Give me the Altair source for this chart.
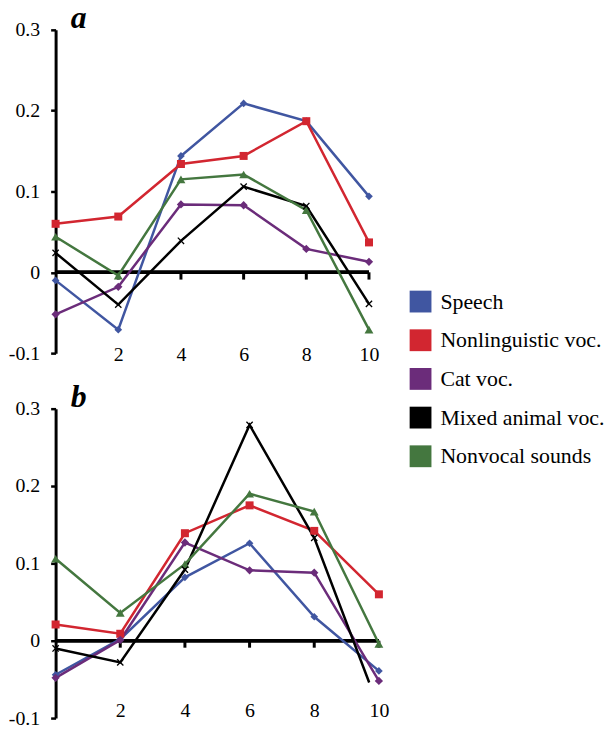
import altair as alt
import pandas as pd

x_vals = [0, 2, 4, 6, 8, 10]
series = ["Speech", "Nonlinguistic voc.", "Cat voc.", "Mixed animal voc.", "Nonvocal sounds"]
colors = ["#4056A1", "#D22630", "#6B2C7A", "#000000", "#44773F"]
shapes = ["diamond", "square", "diamond", "cross", "triangle-up"]
sizes = [60, 80, 60, 40, 60]

# panel a
a_speech = [-0.010, -0.071, 0.144, 0.209, 0.187, 0.094]
a_nonling = [0.060, 0.069, 0.134, 0.144, 0.187, 0.037]
a_cat = [-0.052, -0.018, 0.084, 0.083, 0.029, 0.013]
a_mixed = [0.024, -0.040, 0.039, 0.106, 0.082, -0.039]
a_nonvocal = [0.044, -0.004, 0.115, 0.121, 0.077, -0.071]

# panel b
b_speech = [-0.044, 0.002, 0.082, 0.126, 0.031, -0.039]
b_nonling = [0.021, 0.009, 0.139, 0.175, 0.142, 0.060]
b_cat = [-0.048, 0.001, 0.127, 0.091, 0.088, -0.052]
b_mixed_x = [0, 2, 4, 6, 8, 9.7]
b_mixed = [-0.010, -0.028, 0.092, 0.279, 0.133, -0.054]
b_nonvocal = [0.106, 0.036, 0.099, 0.190, 0.167, -0.004]

x_ticks = [2, 4, 6, 8, 10]
y_ticks = [-0.1, 0, 0.1, 0.2, 0.3]

SERIF = "Liberation Serif"


def make_df(xs_list, ys_list):
    rows = []
    for name, xs, ys in zip(series, xs_list, ys_list):
        for i, (xv, yv) in enumerate(zip(xs, ys)):
            rows.append({"x": xv, "y": yv, "series": name, "kind": name, "order": i,
                         "marker": float(xv) in [float(v) for v in x_vals]})
    return pd.DataFrame(rows)


df_a = make_df([x_vals] * 5, [a_speech, a_nonling, a_cat, a_mixed, a_nonvocal])
df_b = make_df([x_vals, x_vals, x_vals, b_mixed_x, x_vals],
               [b_speech, b_nonling, b_cat, b_mixed, b_nonvocal])
ticks_df = pd.DataFrame({"x": x_ticks})


def panel(df, label, w, h, xlab_pad, show_legend):
    xsc = alt.Scale(domain=[0, 10], nice=False, zero=False)
    ysc = alt.Scale(domain=[-0.1, 0.3], nice=False, zero=False)
    legend = alt.Legend(
        title=None, orient="none", legendX=357, legendY=263,
        symbolType="square", symbolSize=121, symbolStrokeWidth=11,
        labelFont=SERIF, labelFontSize=22, labelColor="black",
        labelOffset=9, rowPadding=-25, labelLimit=300,
    ) if show_legend else None
    color = alt.Color("series:N", scale=alt.Scale(domain=series, range=colors),
                      legend=legend, sort=series)
    xenc = alt.X("x:Q", scale=xsc, title=None,
                 axis=alt.Axis(values=x_ticks, domain=False, ticks=False, grid=False,
                               labelFont=SERIF, labelFontSize=20, labelColor="black",
                               labelBaseline="middle", labelPadding=xlab_pad,
                               labelFlush=False))
    yenc = alt.Y("y:Q", scale=ysc, title=None,
                 axis=alt.Axis(values=y_ticks, domain=True, domainWidth=3, domainColor="black",
                               ticks=True, tickWidth=2.5, tickSize=5, tickColor="black",
                               grid=False, labelFont=SERIF, labelFontSize=20,
                               labelColor="black", labelPadding=11,
                               labelExpr="datum.value == 0 ? '0' : (datum.value < 0 ? '-' : '') + format(abs(datum.value), '.1f')"))

    base = alt.Chart(df)
    lines = base.mark_line(strokeWidth=2.5).encode(
        x=xenc, y=yenc, color=color, order="order:Q")
    pts = base.transform_filter(
        "datum.marker && datum.series != 'Mixed animal voc.'"
    ).mark_point(filled=True, opacity=1).encode(
        x="x:Q", y="y:Q",
        fill=alt.Fill("kind:N", scale=alt.Scale(domain=series, range=colors), legend=None),
        shape=alt.Shape("kind:N", scale=alt.Scale(domain=series, range=shapes), legend=None),
        size=alt.Size("kind:N", scale=alt.Scale(domain=series, range=sizes), legend=None),
    )
    xmarks = base.transform_filter(
        "datum.marker && datum.series == 'Mixed animal voc.'"
    ).mark_point(shape="M-1,-1L1,1M-1,1L1,-1", filled=False, size=40,
                 strokeWidth=1.3, color="black", opacity=1).encode(x="x:Q", y="y:Q")

    zero = alt.Chart(ticks_df).mark_rule(strokeWidth=3, color="black").encode(
        x=alt.datum(0), x2=alt.datum(10), y=alt.datum(0))
    zticks = alt.Chart(ticks_df).mark_rule(strokeWidth=3, color="black").encode(
        x="x:Q", y=alt.datum(0), y2=alt.datum(-0.009))

    return alt.layer(zero, zticks, lines, pts, xmarks).properties(
        width=w, height=h,
        title=alt.TitleParams(label, anchor="start", dx=63, offset=-40,
                              font=SERIF, fontSize=32, fontStyle="italic",
                              fontWeight="bold", color="black", baseline="alphabetic"),
    )


pa = panel(df_a, "a", 316, 326, 1, True)
pb = panel(df_b, "b", 326, 312, -8, False)

chart = alt.vconcat(pa, pb, spacing=17).resolve_scale(
    color="shared", fill="independent", shape="independent", size="independent"
).configure_view(
    stroke=None
).configure_axis(labelFont=SERIF).configure_legend(labelFont=SERIF).properties(
    padding={"top": -9, "left": 0, "right": 0, "bottom": 0}, background="white")

chart.save("out.html", embed_options={"renderer": "svg", "actions": False})
